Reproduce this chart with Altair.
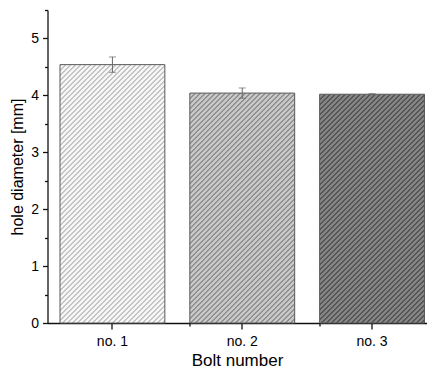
import altair as alt
import pandas as pd

# ---- data ----
bolts = ["no. 1", "no. 2", "no. 3"]
diameter = [4.54, 4.04, 4.02]
error = [0.135, 0.09, 0.01]

df = pd.DataFrame({
    "bolt": bolts,
    "diam": diameter,
    "lo": [d - e for d, e in zip(diameter, error)],
    "hi": [d + e for d, e in zip(diameter, error)],
})

# ---- layout ----
W, H = 379, 313
YMAX = 5.5
PAD_IN = 0.1923
PAD_OUT = 0.0558
ALIGN = 0.862
n = len(bolts)
step = W / (n - PAD_IN + 2 * PAD_OUT)
bar_w = step * (1 - PAD_IN)

bg_cols = ["#f6f6f6", "#c8c8c8", "#858585"]
fg_cols = ["#c4c4c4", "#919191", "#545454"]


def hatch(w, h, bg, fg, period=5.0, line=2.0):
    L = w + h
    k = L / (w * w + h * h)
    stops = []
    j = 0
    while j * period < L:
        s = j * period / L
        m = min(1.0, (j * period + line) / L)
        e = min(1.0, (j + 1) * period / L)
        stops += [
            {"offset": round(s, 5), "color": fg},
            {"offset": round(m, 5), "color": fg},
            {"offset": round(m, 5), "color": bg},
            {"offset": round(e, 5), "color": bg},
        ]
        j += 1
    return {"gradient": "linear", "x1": 0, "y1": 0,
            "x2": w * k, "y2": h * k, "stops": stops}


xscale = alt.Scale(paddingInner=PAD_IN, paddingOuter=PAD_OUT, align=ALIGN)
yscale = alt.Scale(domain=[0, YMAX], nice=False, zero=True)

xaxis = alt.Axis(title="Bolt number", labelAngle=0, tickSize=6, labelPadding=5,
                 titlePadding=4, titleFontSize=17, domainWidth=1.3, tickWidth=1.3)
yaxis = alt.Axis(title="hole diameter [mm]", values=[0, 1, 2, 3, 4, 5], tickSize=5,
                 labelPadding=4, titlePadding=5, grid=False, domainWidth=1.3,
                 tickWidth=1.3)

X = alt.X("bolt:N", sort=bolts, scale=xscale, axis=xaxis)
Y = alt.Y("diam:Q", scale=yscale, axis=yaxis)

layers = []
for i, b in enumerate(bolts):
    h = diameter[i] / YMAX * H
    g = hatch(bar_w, h, bg_cols[i], fg_cols[i])
    layers.append(
        alt.Chart(df).transform_filter(alt.datum.bolt == b)
        .mark_bar(fill=g, stroke="#5a5a5a", strokeWidth=1)
        .encode(x=X, y=Y)
    )

err_rule = alt.Chart(df).mark_rule(color="#666666", strokeWidth=1).encode(
    x=X,
    y=alt.Y("lo:Q", scale=yscale, axis=yaxis),
    y2="hi:Q",
)
cap_lo = alt.Chart(df).mark_tick(color="#666666", thickness=1, size=7).encode(
    x=X, y=alt.Y("lo:Q", scale=yscale, axis=yaxis))
cap_hi = alt.Chart(df).mark_tick(color="#666666", thickness=1, size=7).encode(
    x=X, y=alt.Y("hi:Q", scale=yscale, axis=yaxis))

main = alt.layer(*layers, err_rule, cap_lo, cap_hi)

minor = alt.Chart(df).mark_point(opacity=0).encode(
    x=alt.X("bolt:N", sort=bolts, scale=xscale,
            axis=alt.Axis(title=None, labels=False, domain=False, orient="bottom",
                          bandPosition=0, values=bolts[1:], tickSize=3,
                          tickWidth=1.3)),
    y=alt.Y("diam:Q", scale=yscale,
            axis=alt.Axis(title=None, labels=False, domain=False, orient="left",
                          values=[0.5, 1.5, 2.5, 3.5, 4.5, 5.5], tickSize=3,
                          tickWidth=1.3, grid=False)),
)

chart = alt.layer(main, minor).resolve_axis(
    x="independent", y="independent"
).properties(
    width=W, height=H,
    autosize=alt.AutoSizeParams(type="none"),
    padding={"left": 39.5, "top": 2, "right": 0, "bottom": 45},
).configure_view(stroke=None).configure_axis(
    labelFont="Liberation Sans", titleFont="Liberation Sans",
    labelFontSize=14, titleFontSize=16, titleFontWeight="normal",
    labelColor="#000000", titleColor="#000000",
    domainColor="#111111", tickColor="#111111",
)

chart.save("out.html", embed_options={"renderer": "svg", "actions": False})
